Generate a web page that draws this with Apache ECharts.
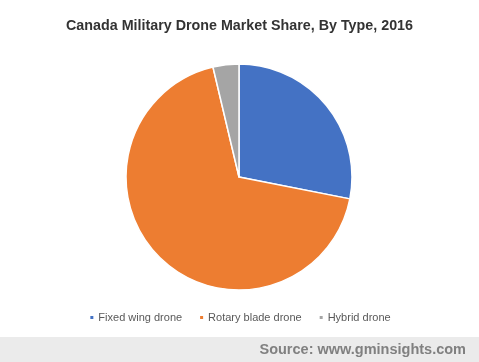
<!DOCTYPE html>
<html>
<head>
<meta charset="utf-8">
<script src="https://cdn.jsdelivr.net/npm/echarts@6/dist/echarts.min.js"></script>
<style>
html,body{margin:0;padding:0;background:#fff;}
#c{width:479px;height:362px;}
</style>
</head>
<body>
<div id="c"></div>
<script>
const categories = ["Fixed wing drone", "Rotary blade drone", "Hybrid drone"];
const shares = [28.1, 68.2, 3.7];
const colors = ["#4472C4", "#ED7D31", "#A5A5A5"];

const chart = echarts.init(document.getElementById('c'), null, {renderer: 'canvas'});
chart.setOption({
  animation: false,
  backgroundColor: '#fff',
  title: {
    text: 'Canada Military Drone Market Share, By Type, 2016',
    left: 'center',
    top: 14,
    textStyle: {fontFamily: 'Liberation Sans, Arial, sans-serif', fontSize: 14.3, fontWeight: 'bold', color: '#333333'}
  },
  legend: {
    data: categories,
    bottom: 34,
    left: 'center',
    icon: 'rect',
    itemWidth: 5,
    itemHeight: 5,
    itemGap: 16,
    textStyle: {fontFamily: 'Liberation Sans, Arial, sans-serif', fontSize: 11, color: '#595959', padding: [0,0,0,-1]}
  },
  graphic: [
    {type: 'rect', left: 0, top: 337, shape: {width: 479, height: 25}, style: {fill: '#EBEBEB'}},
    {type: 'text', right: 13, top: 342, style: {text: 'Source: www.gminsights.com', font: 'bold 14.5px Liberation Sans, Arial, sans-serif', fill: '#808080'}}
  ],
  series: [{
    type: 'pie',
    center: [239, 177],
    radius: 113,
    startAngle: 90,
    clockwise: true,
    label: {show: false},
    labelLine: {show: false},
    emphasis: {disabled: true},
    itemStyle: {borderColor: '#fff', borderWidth: 1.5},
    data: categories.map((n, i) => ({name: n, value: shares[i], itemStyle: {color: colors[i]}}))
  }]
});
</script>
</body>
</html>
